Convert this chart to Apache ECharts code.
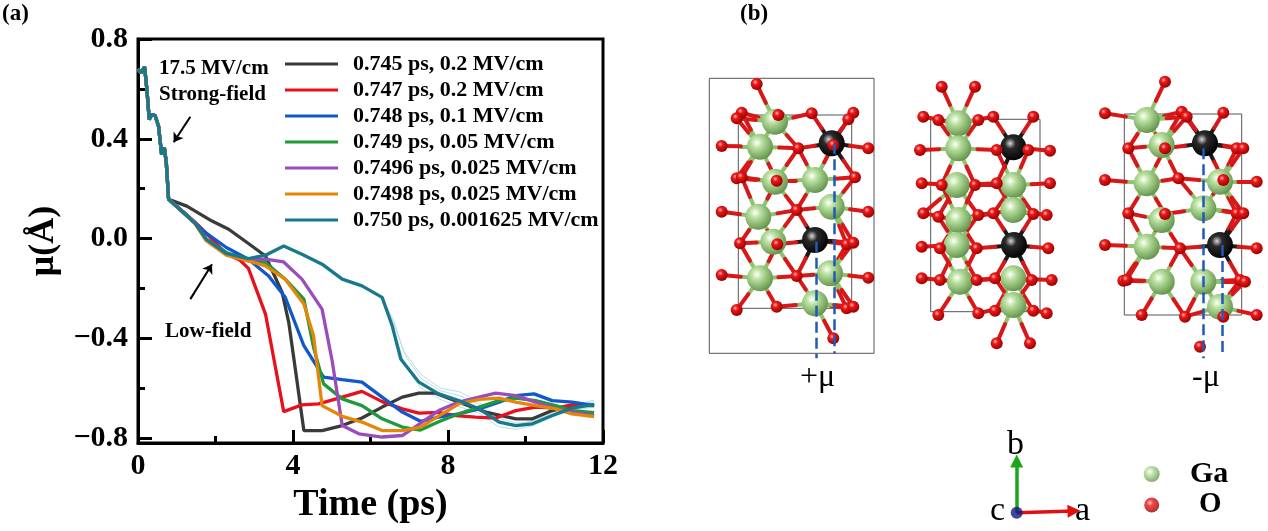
<!DOCTYPE html>
<html>
<head>
<meta charset="utf-8">
<title>Dipole relaxation and Ga2O3 structures</title>
<script src="https://cdn.jsdelivr.net/npm/echarts@6/dist/echarts.min.js"></script>
<style>
    html, body {margin: 0; padding: 0; background: #fff;}
    #chart {width: 1268px; height: 531px;}
</style>
</head>
<body>
<div id="chart"></div>
<script>
const FONT = 'Liberation Serif';

// ---- panel (a): mu(t) curves ----
const seriesNames = [
    '0.745 ps, 0.2 MV/cm',
    '0.747 ps, 0.2 MV/cm',
    '0.748 ps, 0.1 MV/cm',
    '0.749 ps, 0.05 MV/cm',
    '0.7496 ps, 0.025 MV/cm',
    '0.7498 ps, 0.025 MV/cm',
    '0.750 ps, 0.001625 MV/cm'
];
const seriesColors = ['#3a3a3a', '#e8101c', '#1158c8', '#1e9a3c', '#9a4cbf', '#e5860a', '#17798a'];

// common strong-field part (17.5 MV/cm)
const strongField = [[0, 0.68], [0.08, 0.664], [0.17, 0.688], [0.23, 0.597], [0.29, 0.477], [0.36, 0.497],
    [0.44, 0.493], [0.53, 0.45], [0.61, 0.337], [0.68, 0.364], [0.73, 0.304], [0.79, 0.157]];

const run745 = [[0.79, 0.157], [1.26, 0.13], [1.91, 0.07], [2.34, 0.037], [2.85, -0.02], [3.29, -0.07], [3.72, -0.216],
    [3.89, -0.336], [4.06, -0.523], [4.28, -0.77], [4.75, -0.77], [5.27, -0.75], [5.78, -0.72], [6.3, -0.676],
    [6.82, -0.636], [7.25, -0.62], [7.68, -0.62], [8.28, -0.656], [8.97, -0.696], [9.75, -0.723], [10.18, -0.723],
    [10.69, -0.69], [11.2, -0.67], [11.77, -0.667]];
const run747 = [[0.79, 0.157], [1.48, 0.064], [2.0, -0.016], [2.28, -0.063], [2.62, -0.085], [2.85, -0.12],
    [3.29, -0.303], [3.76, -0.694], [4.23, -0.667], [4.66, -0.663], [5.18, -0.64], [5.78, -0.613], [6.3, -0.654],
    [6.82, -0.683], [7.25, -0.7], [7.76, -0.697], [8.2, -0.71], [8.71, -0.716], [9.23, -0.72], [9.75, -0.69],
    [10.26, -0.676], [10.78, -0.68], [11.2, -0.667], [11.77, -0.67]];
const run748 = [[0.79, 0.157], [1.26, 0.095], [1.68, 0.031], [2.28, -0.036], [2.85, -0.083], [3.37, -0.15],
    [3.8, -0.236], [4.28, -0.43], [4.79, -0.556], [5.27, -0.566], [5.78, -0.576], [6.3, -0.636], [6.82, -0.696],
    [7.29, -0.733], [7.76, -0.716], [8.28, -0.703], [8.8, -0.683], [9.32, -0.656], [9.75, -0.63], [10.22, -0.623],
    [10.69, -0.65], [11.21, -0.656], [11.77, -0.67]];
const run749 = [[0.79, 0.157], [1.48, 0.06], [1.76, -0.003], [2.28, -0.056], [2.85, -0.09], [3.29, -0.096],
    [3.8, -0.163], [4.28, -0.243], [4.53, -0.436], [4.79, -0.583], [5.27, -0.643], [5.78, -0.67], [6.3, -0.723],
    [6.82, -0.756], [7.29, -0.768], [7.76, -0.735], [8.28, -0.703], [8.8, -0.676], [9.32, -0.65], [9.75, -0.64],
    [10.26, -0.65], [10.78, -0.67], [11.2, -0.69], [11.77, -0.698]];
const run7496 = [[0.79, 0.157], [1.48, 0.062], [1.76, -0.003], [2.28, -0.06], [2.85, -0.085], [3.29, -0.083],
    [3.76, -0.094], [4.23, -0.163], [4.75, -0.283], [5.01, -0.49], [5.27, -0.75], [5.7, -0.783], [6.3, -0.796],
    [6.82, -0.79], [7.25, -0.745], [7.76, -0.69], [8.28, -0.656], [8.8, -0.636], [9.23, -0.62], [9.75, -0.63],
    [10.26, -0.656], [10.78, -0.683], [11.2, -0.696], [11.77, -0.71]];
const run7498 = [[0.79, 0.157], [1.48, 0.058], [1.76, -0.009], [2.28, -0.067], [2.85, -0.09], [3.29, -0.11],
    [3.8, -0.163], [4.28, -0.263], [4.53, -0.39], [4.75, -0.67], [5.27, -0.713], [5.78, -0.736], [6.3, -0.77],
    [6.82, -0.77], [7.29, -0.756], [7.76, -0.712], [8.28, -0.663], [8.8, -0.645], [9.32, -0.64], [9.75, -0.656],
    [10.26, -0.67], [10.78, -0.683], [11.2, -0.703], [11.77, -0.714]];
const run750 = [[0.79, 0.157], [1.48, 0.06], [1.76, -0.003], [2.28, -0.06], [2.85, -0.081], [3.29, -0.067],
    [3.76, -0.03], [4.23, -0.063], [4.75, -0.103], [5.27, -0.163], [5.78, -0.19], [6.3, -0.236], [6.56, -0.35],
    [6.78, -0.483], [7.25, -0.576], [7.76, -0.623], [8.28, -0.65], [8.8, -0.683], [9.32, -0.736], [9.75, -0.75],
    [10.18, -0.743], [10.69, -0.71], [11.2, -0.68], [11.77, -0.666]];
const lowFieldRuns = [run745, run747, run748, run749, run7496, run7498, run750];

// faint repeats around the 0.750 ps run
const faint1 = [[6.3, -0.236], [6.6, -0.33], [6.85, -0.45], [7.3, -0.545], [7.8, -0.6], [8.3, -0.615], [8.8, -0.655],
    [9.3, -0.72], [9.75, -0.74], [10.2, -0.735], [10.7, -0.7], [11.2, -0.67], [11.77, -0.648]];
const faint2 = [[6.3, -0.236], [6.6, -0.37], [6.9, -0.51], [7.3, -0.6], [7.8, -0.645], [8.3, -0.675], [8.8, -0.7],
    [9.3, -0.755], [9.75, -0.765], [10.2, -0.75], [10.7, -0.715], [11.2, -0.69], [11.77, -0.675]];
const faint3 = [[6.3, -0.236], [6.6, -0.34], [6.9, -0.47], [7.3, -0.56], [7.8, -0.61], [8.3, -0.63], [8.8, -0.665],
    [9.3, -0.73], [9.75, -0.748], [10.2, -0.73], [10.7, -0.695], [11.2, -0.665], [11.77, -0.655]];

const yMajorTicks = [-0.8, -0.4, 0, 0.4, 0.8];
const yMinorTicks = [-0.6, -0.2, 0.2, 0.6];

// arrows in data units [t0, mu0, t1, mu1]
const fieldArrows = [[1.35, 0.488, 0.92, 0.386], [1.35, -0.243, 1.91, -0.103]];

// ---- panel (b): projected atoms, in picture units ----
const cellBoxes = [[709.3, 78.3, 874, 353.3], [738.3, 115, 851.7, 308.3], [930.7, 119.3, 1040, 311.7], [1124.3, 114, 1241.7, 315]];

const ga1 = [[775, 121.7], [760, 146.7], [775, 181.7], [815, 180], [831.7, 206.7], [758.3, 216.7], [773.3, 241.7],
    [830, 273.3], [760, 278.3], [815, 303.3]];
const dark1 = [[831.7, 143.3], [815, 240]];
const o1 = [[756.7, 84], [741.7, 112.7], [736.7, 118.3], [778.3, 115], [811.7, 113.3], [853.3, 112.7], [848.3, 119.3],
    [721.7, 146], [798.3, 148.3], [868.3, 148.3], [736.7, 178.3], [741.7, 177.3], [776.7, 180.7], [855, 177.3],
    [796.7, 210], [721.7, 211.7], [868.3, 211.7], [740, 243.3], [777.3, 244.3], [846.7, 244.3], [853.3, 242.7],
    [796.7, 276], [721.7, 275], [868.3, 277.7], [776.7, 306.7], [736.7, 310], [846.7, 308.3], [853.3, 306.7],
    [833.3, 338.3], [833.3, 145]];

const ga2 = [[958.3, 123.3], [958.3, 148.3], [956.7, 185], [958.3, 220], [956.7, 245], [960, 281.7], [1013.3, 185],
    [1013.3, 210], [1013.3, 278.3], [1013.3, 305]];
const dark2 = [[1013.3, 147.3], [1014, 245]];
const o2 = [[941.7, 86.7], [975, 86.7], [923.3, 116.7], [938.3, 120], [978.3, 120], [993.3, 116.7], [1033.3, 116.7],
    [920, 150], [996.7, 150], [1028.3, 150], [1050, 150.7], [921.7, 183.3], [941.7, 185], [975, 185], [996.7, 183.3],
    [1050, 183.3], [923.3, 213.3], [938.3, 216.7], [978.3, 215], [993.3, 213.3], [1033.3, 214], [1046.7, 215],
    [921.7, 246.7], [940, 248.3], [976.7, 248.3], [1048.3, 248.3], [921.7, 278.3], [940, 280], [976.7, 280],
    [995, 278.3], [1031.7, 280], [1051.7, 280], [938.3, 315], [978.3, 313.3], [995, 310.7], [1033.3, 310.7],
    [1046.7, 313.3], [996.7, 343.3], [1030, 343.3]];

const ga3 = [[1146.7, 120], [1161.7, 145], [1146.7, 183.3], [1220, 181.7], [1203.3, 208.3], [1161.7, 220],
    [1146.7, 246.7], [1161.7, 281.7], [1203.3, 281.7], [1220, 306.7]];
const dark3 = [[1205, 143.3], [1220, 245]];
const o3 = [[1165, 81.7], [1105, 113.3], [1181.7, 111.7], [1186.7, 116.7], [1223.3, 112.7], [1128.3, 148.3],
    [1165, 148.3], [1236.7, 148.3], [1243.3, 148.3], [1105, 180], [1178.3, 178.3], [1223.3, 180], [1256.7, 181.7],
    [1128.3, 213.3], [1165, 214], [1236.7, 213.3], [1243.3, 213.3], [1105, 245], [1180, 248.3], [1256.7, 248.3],
    [1123.3, 280.7], [1126.7, 280], [1240, 280], [1245, 281.7], [1141.7, 315], [1185, 316.7], [1223.3, 316.7],
    [1256.7, 315], [1200, 346.7]];

// dashed dipole guides [x, y0, x, y1]
const dipoleGuides = [[816.7, 241.7, 816.7, 358.3], [834, 143.3, 834, 353.3],
    [1203.3, 148.3, 1203.3, 358.3], [1222.7, 245, 1222.7, 356.7]];

// lattice triad origin and arrow tips, key spheres
const triadOrigin = [1016.7, 512.7];
const triadB = [1016.7, 461];
const triadA = [1074, 511];
const keyGa = [1151.7, 474];
const keyO = [1151.7, 505];

function sphere(light, mid, dark) {
    return {
        type: 'radial', x: 0.38, y: 0.35, r: 0.7,
        colorStops: [{offset: 0, color: light}, {offset: 0.3, color: mid}, {offset: 1, color: dark}]
    };
}
const gaFill = sphere('#ffffff', '#b8e09e', '#5f8f48');
const oFill = sphere('#ffb8b8', '#ee1818', '#8e0000');
const darkFill = sphere('#d8d8d8', '#2a2a2a', '#000');

// bonds: metal half + oxygen half, for pairs closer than the cut-off
function bonds(metals, oxygens, metalColor) {
    const out = [];
    metals.forEach(m => {
        oxygens.forEach(o => {
            const d = Math.hypot(m[0] - o[0], m[1] - o[1]);
            if (d < 44 && d > 4) {
                const mid = [(m[0] + o[0]) / 2, (m[1] + o[1]) / 2];
                out.push({coords: [m, mid], lineStyle: {color: metalColor}});
                out.push({coords: [mid, o], lineStyle: {color: '#d81818'}});
            }
        });
    });
    return out;
}

const bondData = [].concat(
    bonds(ga1, o1, '#8fc270'), bonds(dark1, o1, '#1a1a1a'),
    bonds(ga2, o2, '#8fc270'), bonds(dark2, o2, '#1a1a1a'),
    bonds(ga3, o3, '#8fc270'), bonds(dark3, o3, '#1a1a1a')
);

const chart = echarts.init(document.getElementById('chart'), null, {renderer: 'canvas'});

const curveSeries = lowFieldRuns.map((run, i) => ({
    name: seriesNames[i],
    type: 'line',
    xAxisIndex: 0,
    yAxisIndex: 0,
    data: strongField.concat(run.slice(1)),
    showSymbol: false,
    symbol: 'none',
    lineStyle: {color: seriesColors[i], width: 3.3},
    itemStyle: {color: seriesColors[i]},
    z: 3 + i
}));

const faintSeries = [faint1, faint2, faint3].map(run => ({
    type: 'line',
    xAxisIndex: 0,
    yAxisIndex: 0,
    data: run,
    showSymbol: false,
    symbol: 'none',
    silent: true,
    lineStyle: {color: '#b8e0e6', width: 1},
    z: 2
}));

const boldText = (size) => ({fontFamily: FONT, fontWeight: 'bold', fontSize: size, color: '#000'});

const option = {
    animation: false,
    backgroundColor: '#fff',
    grid: [
        {left: 138, top: 39, width: 465, height: 404, show: true, borderColor: '#000', borderWidth: 3, backgroundColor: 'transparent'},
        {left: 640, top: 0, width: 628, height: 531, show: false}
    ],
    legend: {
        data: seriesNames.map(n => ({name: n, icon: 'rect'})),
        orient: 'vertical',
        left: 280,
        top: 48,
        itemWidth: 53,
        itemHeight: 3,
        itemGap: 4,
        selectedMode: false,
        textStyle: {fontFamily: FONT, fontWeight: 'bold', fontSize: 22, color: '#000', lineHeight: 22, padding: [0, 0, 0, 10]}
    },
    xAxis: [
        {
            gridIndex: 0, type: 'value', min: 0, max: 12, interval: 4,
            axisLine: {show: true, onZero: false, lineStyle: {color: '#000', width: 3}},
            axisTick: {show: true, inside: true, length: 13, lineStyle: {color: '#000', width: 3}},
            minorTick: {show: true, splitNumber: 2, length: 7, lineStyle: {color: '#000', width: 3}},
            splitLine: {show: false},
            axisLabel: Object.assign(boldText(30), {margin: 8, showMinLabel: true, showMaxLabel: true}),
            name: 'Time (ps)', nameLocation: 'middle', nameGap: 43,
            nameTextStyle: boldText(38)
        },
        {gridIndex: 1, type: 'value', min: 640, max: 1268, show: false}
    ],
    yAxis: [
        {
            gridIndex: 0, type: 'value', position: 'left', min: -0.82, max: 0.8,
            axisLine: {show: true, onZero: false, lineStyle: {color: '#000', width: 3}},
            axisTick: {show: true, inside: true, length: 14, customValues: yMajorTicks, lineStyle: {color: '#000', width: 3}},
            splitLine: {show: false},
            axisLabel: Object.assign(boldText(30), {
                margin: 10, customValues: yMajorTicks,
                formatter: v => (v < -1e-9 ? '\u2212' : '') + Math.abs(v).toFixed(1)
            }),
            name: 'μ(Å)', nameLocation: 'middle', nameGap: 76, nameRotate: 90,
            nameTextStyle: boldText(36)
        },
        {
            gridIndex: 0, type: 'value', position: 'left', min: -0.82, max: 0.8,
            axisLine: {show: false, onZero: false},
            axisTick: {show: true, inside: true, length: 7, customValues: yMinorTicks, lineStyle: {color: '#000', width: 3}},
            axisLabel: {show: false},
            splitLine: {show: false}
        },
        {gridIndex: 1, type: 'value', min: 0, max: 531, inverse: true, show: false}
    ],
    series: faintSeries.concat(curveSeries).concat([
        {
            type: 'lines', coordinateSystem: 'cartesian2d', xAxisIndex: 0, yAxisIndex: 0,
            data: fieldArrows.map(a => ({coords: [[a[0], a[1]], [a[2], a[3]]]})),
            symbol: ['none', 'arrow'], symbolSize: 9,
            lineStyle: {color: '#000', width: 2, opacity: 1},
            silent: true, z: 12
        },
        // panel (b)
        {
            type: 'lines', coordinateSystem: 'cartesian2d', xAxisIndex: 1, yAxisIndex: 2, polyline: true,
            data: cellBoxes.map(b => ({coords: [[b[0], b[1]], [b[2], b[1]], [b[2], b[3]], [b[0], b[3]], [b[0], b[1]]]})),
            lineStyle: {color: '#555', width: 1, opacity: 1}, silent: true, z: 1
        },
        {
            type: 'lines', coordinateSystem: 'cartesian2d', xAxisIndex: 1, yAxisIndex: 2,
            data: bondData, lineStyle: {width: 4, opacity: 1, cap: 'round'}, silent: true, z: 2
        },
        {
            type: 'scatter', xAxisIndex: 1, yAxisIndex: 2, symbolSize: 26,
            data: ga1.concat(ga2, ga3), itemStyle: {color: gaFill, opacity: 1}, silent: true, z: 3
        },
        {
            type: 'scatter', xAxisIndex: 1, yAxisIndex: 2, symbolSize: 26,
            data: dark1.concat(dark2, dark3), itemStyle: {color: darkFill, opacity: 1}, silent: true, z: 4
        },
        {
            type: 'scatter', xAxisIndex: 1, yAxisIndex: 2, symbolSize: 12,
            data: o1.concat(o2, o3), itemStyle: {color: oFill, opacity: 1}, silent: true, z: 5
        },
        {
            type: 'lines', coordinateSystem: 'cartesian2d', xAxisIndex: 1, yAxisIndex: 2,
            data: dipoleGuides.map(g => ({coords: [[g[0], g[1]], [g[2], g[3]]]})),
            lineStyle: {color: '#1f5bb5', width: 2.5, type: [11, 5], opacity: 1}, silent: true, z: 6
        },
        {
            type: 'lines', coordinateSystem: 'cartesian2d', xAxisIndex: 1, yAxisIndex: 2,
            data: [
                {coords: [triadOrigin, triadB], lineStyle: {color: '#1aa81a'}},
                {coords: [triadOrigin, triadA], lineStyle: {color: '#e01010'}}
            ],
            symbol: ['none', 'triangle'], symbolSize: [11, 13],
            lineStyle: {width: 3.5, opacity: 1}, silent: true, z: 6
        },
        {
            type: 'scatter', xAxisIndex: 1, yAxisIndex: 2, symbolSize: 12,
            data: [triadOrigin], itemStyle: {color: '#101880'}, silent: true, z: 7
        },
        {
            type: 'scatter', xAxisIndex: 1, yAxisIndex: 2, symbolSize: 16,
            data: [keyGa], itemStyle: {color: gaFill}, silent: true, z: 7
        },
        {
            type: 'scatter', xAxisIndex: 1, yAxisIndex: 2, symbolSize: 15,
            data: [keyO], itemStyle: {color: oFill}, silent: true, z: 7
        }
    ]),
    graphic: [
        {type: 'text', left: 2, top: 3, style: Object.assign({text: '(a)'}, boldText(23))},
        {type: 'text', left: 740, top: 3, style: Object.assign({text: '(b)'}, boldText(23))},
        {type: 'text', left: 159, top: 58, style: Object.assign({text: '17.5 MV/cm'}, boldText(21))},
        {type: 'text', left: 159, top: 84, style: Object.assign({text: 'Strong-field'}, boldText(21))},
        {type: 'text', left: 165, top: 321, style: Object.assign({text: 'Low-field'}, boldText(21))},
        {type: 'text', left: 800, top: 362, style: {text: '+μ', fontFamily: FONT, fontSize: 32, fill: '#000'}},
        {type: 'text', left: 1192, top: 362, style: {text: '-μ', fontFamily: FONT, fontSize: 32, fill: '#000'}},
        {type: 'text', left: 1007, top: 428, style: {text: 'b', fontFamily: FONT, fontSize: 34, fill: '#000'}},
        {type: 'text', left: 990, top: 494, style: {text: 'c', fontFamily: FONT, fontSize: 34, fill: '#000'}},
        {type: 'text', left: 1075, top: 494, style: {text: 'a', fontFamily: FONT, fontSize: 34, fill: '#000'}},
        {type: 'text', left: 1190, top: 459, style: Object.assign({text: 'Ga'}, boldText(30))},
        {type: 'text', left: 1199, top: 490, style: Object.assign({text: 'O'}, boldText(29))}
    ]
};

chart.setOption(option);
</script>
</body>
</html>
